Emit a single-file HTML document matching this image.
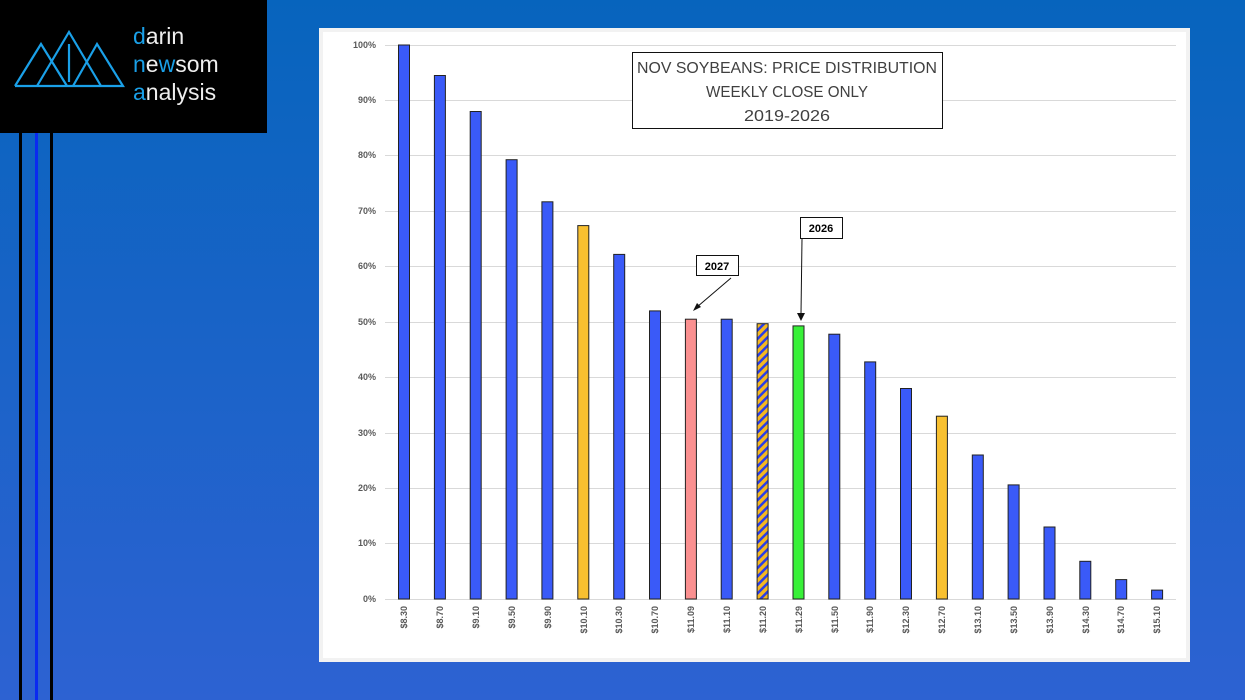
<!DOCTYPE html>
<html><head><meta charset="utf-8"><style>
html,body{margin:0;padding:0;width:1245px;height:700px;overflow:hidden}
svg{display:block}
</style></head><body>
<svg width="1245" height="700" xmlns="http://www.w3.org/2000/svg" font-family="'Liberation Sans', sans-serif">
<defs>
<linearGradient id="bg" x1="0" y1="0" x2="0" y2="1"><stop offset="0" stop-color="#0764bd"/><stop offset="1" stop-color="#2d62d2"/></linearGradient>
<pattern id="hatch" width="6" height="6" patternUnits="userSpaceOnUse" patternTransform="rotate(45)"><rect width="6" height="6" fill="#f5b820"/><rect width="2.5" height="6" fill="#2a3ee8"/></pattern>
</defs>
<rect width="1245" height="700" fill="url(#bg)"/>
<rect x="19" y="130" width="3" height="570" fill="#000"/>
<rect x="35" y="130" width="3" height="570" fill="#0a2af0"/>
<rect x="50" y="130" width="3" height="570" fill="#000"/>
<rect x="0" y="0" width="267" height="133" fill="#000"/>
<g stroke="#1aa0e8" stroke-width="2.2" fill="none">
<polyline points="15,86 41,44 67,86"/>
<polyline points="37,86 69,32 101,86"/>
<polyline points="73,86 97,44 123,86 15,86"/>
<line x1="69" y1="44" x2="69" y2="82"/>
</g>
<text x="133" y="44" font-size="23" fill="#eee"><tspan fill="#1aa0e8">d</tspan>arin</text>
<text x="133" y="72" font-size="23" fill="#eee"><tspan fill="#1aa0e8">n</tspan>e<tspan fill="#1aa0e8">w</tspan>som</text>
<text x="133" y="100" font-size="23" fill="#eee"><tspan fill="#1aa0e8">a</tspan>nalysis</text>
<rect x="319" y="28" width="871" height="634" fill="#f2f2f2"/>
<rect x="323" y="32" width="863" height="626" fill="#fff"/>
<g stroke="#d9d9d9" stroke-width="1">
<line x1="385" x2="1176" y1="45.5" y2="45.5"/><line x1="385" x2="1176" y1="100.5" y2="100.5"/>
<line x1="385" x2="1176" y1="155.5" y2="155.5"/><line x1="385" x2="1176" y1="211.5" y2="211.5"/>
<line x1="385" x2="1176" y1="266.5" y2="266.5"/><line x1="385" x2="1176" y1="322.5" y2="322.5"/>
<line x1="385" x2="1176" y1="377.5" y2="377.5"/><line x1="385" x2="1176" y1="433.5" y2="433.5"/>
<line x1="385" x2="1176" y1="488.5" y2="488.5"/><line x1="385" x2="1176" y1="543.5" y2="543.5"/>
<line x1="385" x2="1176" y1="599.5" y2="599.5"/>
</g>
<g font-size="9" font-weight="bold" fill="#595959" text-anchor="end">
<text x="376" y="48">100%</text><text x="376" y="103">90%</text><text x="376" y="158">80%</text>
<text x="376" y="214">70%</text><text x="376" y="269">60%</text><text x="376" y="325">50%</text>
<text x="376" y="380">40%</text><text x="376" y="436">30%</text><text x="376" y="491">20%</text>
<text x="376" y="546">10%</text><text x="376" y="602">0%</text>
</g>
<g stroke="#222" stroke-width="1">
<rect x="398.5" y="45" width="11" height="554" fill="#3a5af8"/>
<rect x="434.4" y="75.5" width="11" height="523.5" fill="#3a5af8"/>
<rect x="470.2" y="111.5" width="11" height="487.5" fill="#3a5af8"/>
<rect x="506.1" y="159.7" width="11" height="439.3" fill="#3a5af8"/>
<rect x="541.9" y="201.8" width="11" height="397.2" fill="#3a5af8"/>
<rect x="577.8" y="225.6" width="11" height="373.4" fill="#f8c030"/>
<rect x="613.7" y="254.4" width="11" height="344.6" fill="#3a5af8"/>
<rect x="649.5" y="310.9" width="11" height="288.1" fill="#3a5af8"/>
<rect x="685.4" y="319.2" width="11" height="279.8" fill="#fa9090"/>
<rect x="721.2" y="319.2" width="11" height="279.8" fill="#3a5af8"/>
<rect x="757.1" y="323.7" width="11" height="275.3" fill="url(#hatch)"/>
<rect x="793" y="325.9" width="11" height="273.1" fill="#38f038"/>
<rect x="828.8" y="334.2" width="11" height="264.8" fill="#3a5af8"/>
<rect x="864.7" y="361.9" width="11" height="237.1" fill="#3a5af8"/>
<rect x="900.5" y="388.5" width="11" height="210.5" fill="#3a5af8"/>
<rect x="936.4" y="416.2" width="11" height="182.8" fill="#f8c030"/>
<rect x="972.3" y="455" width="11" height="144" fill="#3a5af8"/>
<rect x="1008.1" y="484.9" width="11" height="114.1" fill="#3a5af8"/>
<rect x="1044" y="527" width="11" height="72" fill="#3a5af8"/>
<rect x="1079.8" y="561.3" width="11" height="37.7" fill="#3a5af8"/>
<rect x="1115.7" y="579.6" width="11" height="19.4" fill="#3a5af8"/>
<rect x="1151.6" y="590.1" width="11" height="8.9" fill="#3a5af8"/>
</g>
<g font-size="9" font-weight="bold" fill="#595959" text-anchor="end">
<text transform="translate(407,606) rotate(-90)">$8.30</text>
<text transform="translate(443,606) rotate(-90)">$8.70</text>
<text transform="translate(479,606) rotate(-90)">$9.10</text>
<text transform="translate(515,606) rotate(-90)">$9.50</text>
<text transform="translate(551,606) rotate(-90)">$9.90</text>
<text transform="translate(587,606) rotate(-90)">$10.10</text>
<text transform="translate(622,606) rotate(-90)">$10.30</text>
<text transform="translate(658,606) rotate(-90)">$10.70</text>
<text transform="translate(694,606) rotate(-90)">$11.09</text>
<text transform="translate(730,606) rotate(-90)">$11.10</text>
<text transform="translate(766,606) rotate(-90)">$11.20</text>
<text transform="translate(802,606) rotate(-90)">$11.29</text>
<text transform="translate(838,606) rotate(-90)">$11.50</text>
<text transform="translate(873,606) rotate(-90)">$11.90</text>
<text transform="translate(909,606) rotate(-90)">$12.30</text>
<text transform="translate(945,606) rotate(-90)">$12.70</text>
<text transform="translate(981,606) rotate(-90)">$13.10</text>
<text transform="translate(1017,606) rotate(-90)">$13.50</text>
<text transform="translate(1053,606) rotate(-90)">$13.90</text>
<text transform="translate(1089,606) rotate(-90)">$14.30</text>
<text transform="translate(1124,606) rotate(-90)">$14.70</text>
<text transform="translate(1160,606) rotate(-90)">$15.10</text>
</g>
<rect x="632.5" y="52.5" width="310" height="76" fill="#fff" stroke="#111" stroke-width="1"/>
<g font-size="16" fill="#404040" text-anchor="middle">
<text x="787" y="73" textLength="300" lengthAdjust="spacingAndGlyphs">NOV SOYBEANS: PRICE DISTRIBUTION</text>
<text x="787" y="97" textLength="162" lengthAdjust="spacingAndGlyphs">WEEKLY CLOSE ONLY</text>
<text x="787" y="121" textLength="86" lengthAdjust="spacingAndGlyphs">2019-2026</text>
</g>
<rect x="696.5" y="255.5" width="42" height="20" fill="#fff" stroke="#111"/>
<text x="717" y="270" font-size="11" font-weight="bold" text-anchor="middle" fill="#000">2027</text>
<line x1="731" y1="278" x2="697" y2="307" stroke="#111" stroke-width="1"/>
<polygon points="693,311 697,303 701,307" fill="#111"/>
<rect x="800.5" y="217.5" width="42" height="21" fill="#fff" stroke="#111"/>
<text x="821" y="232" font-size="11" font-weight="bold" text-anchor="middle" fill="#000">2026</text>
<line x1="802" y1="239" x2="801" y2="314" stroke="#111" stroke-width="1"/>
<polygon points="797,313 805,313 801,321" fill="#111"/>
</svg>
</body></html>
